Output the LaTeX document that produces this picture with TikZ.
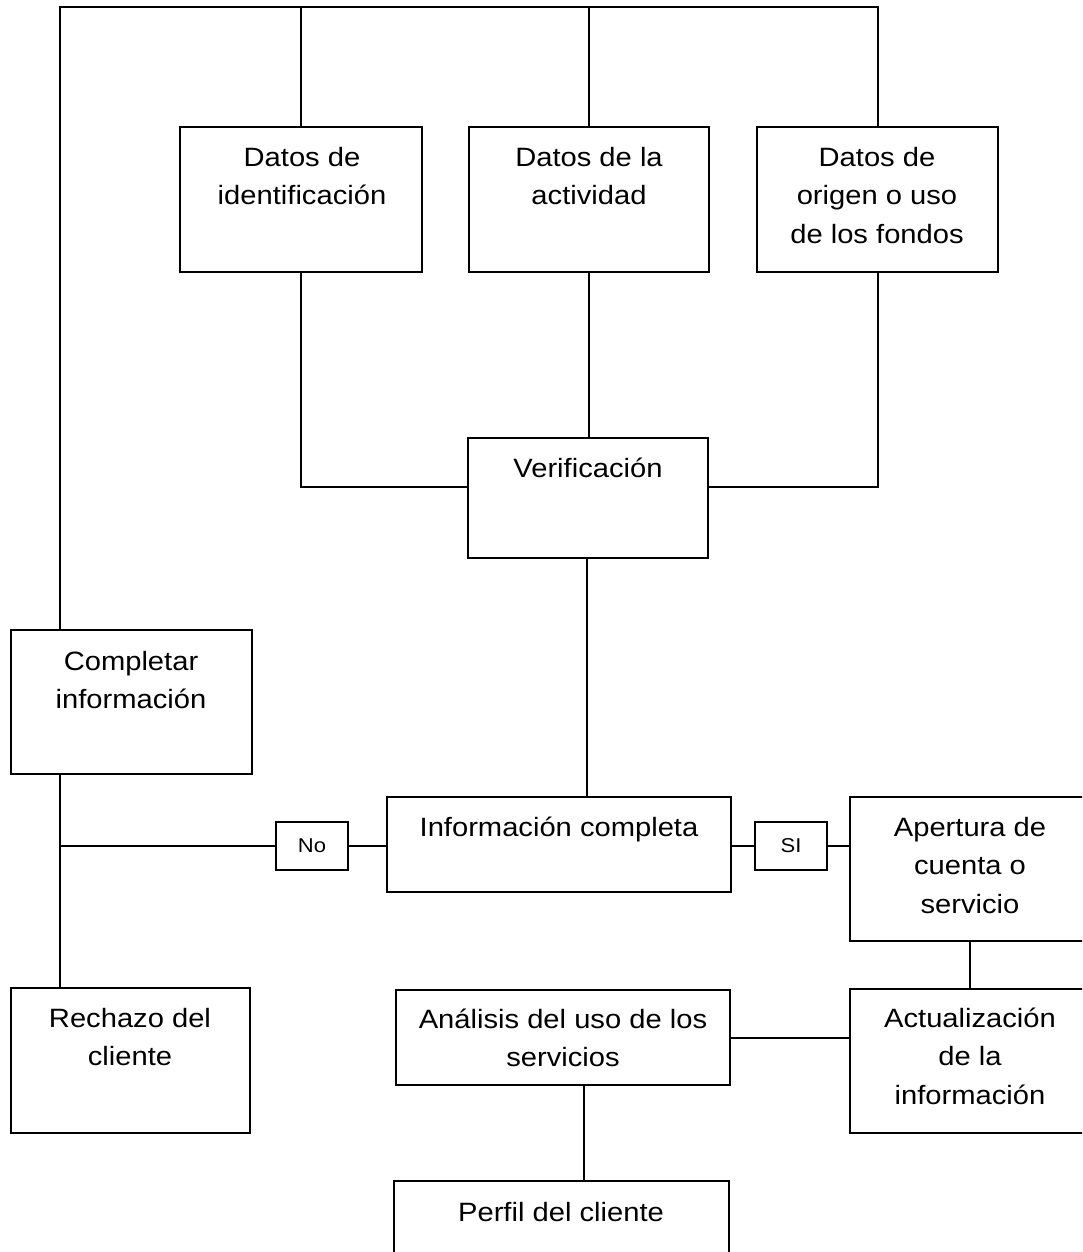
\documentclass[tikz,border=0pt]{standalone}
\usepackage{fontspec}
\setmainfont{Liberation Sans}[FakeStretch=1.1]
\newcommand\boxfont{\fontsize{26.5}{38.5}\selectfont}
\newcommand\tagfont{\fontsize{20}{24}\selectfont}
% fixed-height strut so the first baseline sits 30pt below a text node's top
\newcommand\firstline{\rule{0pt}{30pt}}

\begin{document}
\begin{tikzpicture}[x=1pt, y=-1pt,
  box/.style={draw, line width=2pt, inner sep=0pt, outer sep=0pt, anchor=north west},
  txt/.style={anchor=north, inner sep=0pt, align=center, font=\boxfont},
  tag/.style={draw, line width=1.8pt, inner sep=0pt, outer sep=0pt, anchor=north west,
              minimum width=72pt, minimum height=48pt, font=\tagfont},
  link/.style={line width=2pt}]

\useasboundingbox (0,0) rectangle (1082,1252);
\clip (0,0) rectangle (1082,1252);

% boxes
\node[box, minimum width=242pt, minimum height=145pt] (ident)  at (180,127) {};
\node[box, minimum width=240pt, minimum height=145pt] (activ)  at (469,127) {};
\node[box, minimum width=241pt, minimum height=145pt] (origen) at (757,127) {};
\node[box, minimum width=240pt, minimum height=120pt] (verif)  at (468,438) {};
\node[box, minimum width=241pt, minimum height=144pt] (comp)   at (11,630) {};
\node[box, minimum width=344pt, minimum height=95pt]  (info)   at (387,797) {};
\node[box, minimum width=242pt, minimum height=144pt] (aper)   at (850,797) {};
\node[box, minimum width=239pt, minimum height=145pt] (rech)   at (11,988) {};
\node[box, minimum width=334pt, minimum height=95pt]  (anal)   at (396,990) {};
\node[box, minimum width=242pt, minimum height=144pt] (actual) at (850,989) {};
\node[box, minimum width=335pt, minimum height=95pt]  (perfil) at (394,1181) {};
\node[tag] (no) at (276,822) {No};
\node[tag] (si) at (755,822) {SI};

% box texts
\node[txt] (identT)  at (302,136)  {\firstline Datos de\\identificación};
\node[txt] (activT)  at (589,136)  {\firstline Datos de la\\actividad};
\node[txt] (origenT) at (877,136)  {\firstline Datos de\\origen o uso\\de los fondos};
\node[txt] (verifT)  at (588,447)  {\firstline Verificación};
\node[txt] (compT)   at (131,640)  {\firstline Completar\\información};
\node[txt] (infoT)   at (559,806)  {\firstline Información completa};
\node[txt] (aperT)   at (970,806)  {\firstline Apertura de\\cuenta o\\servicio};
\node[txt] (rechT)   at (130,997)  {\firstline Rechazo del\\cliente};
\node[txt] (analT)   at (563,998)  {\firstline Análisis del uso de los\\servicios};
\node[txt] (actualT) at (970,997)  {\firstline Actualización\\de la\\información};
\node[txt] (perfilT) at (561,1191) {\firstline Perfil del cliente};

% helper coordinates for connector routes
\coordinate (topL)  at (60,7);
\coordinate (vjoin) at (0,487);
\coordinate (stem)  at (587,0);
\coordinate (aperx) at (970,0);
\coordinate (perfx) at (584,0);

% connectors
\draw[link] (comp.north -| topL) -- (topL) -- (topL -| origen.north) -- (origen.north);
\draw[link] (ident.north) -- (ident.north |- topL);
\draw[link] (activ.north) -- (activ.north |- topL);
\draw[link] (ident.south) |- (verif.west |- vjoin);
\draw[link] (origen.south) |- (verif.east |- vjoin);
\draw[link] (activ.south) -- (activ.south |- verif.north);
\draw[link] (verif.south -| stem) -- (info.north -| stem);
\draw[link] (comp.south -| topL) -- (rech.north -| topL);
\draw[link] (topL |- no.west) -- (no.west);
\draw[link] (no.east) -- (info.west |- no.east);
\draw[link] (info.east |- si.west) -- (si.west);
\draw[link] (si.east) -- (aper.west |- si.east);
\draw[link] (aper.south -| aperx) -- (actual.north -| aperx);
\draw[link] (anal.east) -- (actual.west |- anal.east);
\draw[link] (anal.south -| perfx) -- (perfil.north -| perfx);
\end{tikzpicture}
\end{document}
